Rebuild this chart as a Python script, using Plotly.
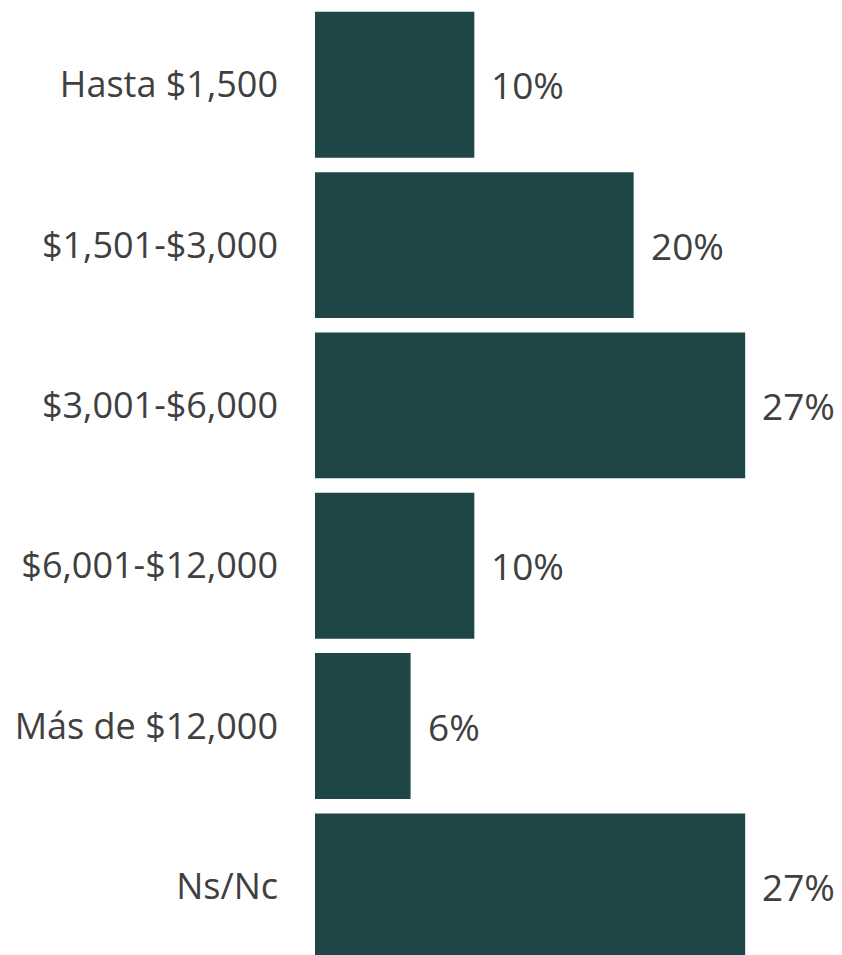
import plotly.graph_objects as go

categories = ["Hasta $1,500", "$1,501-$3,000", "$3,001-$6,000", "$6,001-$12,000", "Más de $12,000", "Ns/Nc"]
values = [10, 20, 27, 10, 6, 27]
value_labels = ["10%", "20%", "27%", "10%", "6%", "27%"]

BAR_COLOR = "#1f4647"
TEXT_COLOR = "#404040"
FONT = "Open Sans, Noto Sans, DejaVu Sans, sans-serif"

fig = go.Figure(
    go.Bar(
        x=values,
        y=categories,
        orientation="h",
        marker=dict(color=BAR_COLOR, line=dict(width=0)),
        hoverinfo="skip",
    )
)

for cat, val, lab in zip(categories, values, value_labels):
    fig.add_annotation(
        x=val, y=cat, text=lab, showarrow=False,
        xanchor="left", yanchor="middle", xshift=15,
        font=dict(family=FONT, size=37, color=TEXT_COLOR),
    )

fig.update_layout(
    width=842, height=955,
    margin=dict(l=307, r=0, t=0, b=0, autoexpand=False),
    paper_bgcolor="white", plot_bgcolor="white",
    bargap=0.09,
    showlegend=False,
    font=dict(family=FONT, size=36, color=TEXT_COLOR),
)
fig.update_xaxes(range=[0, 33.58], visible=False, fixedrange=True)
fig.update_yaxes(
    range=[5.478, -0.479], showgrid=False, zeroline=False, showline=False,
    ticks="", ticklabelstandoff=36, automargin=False,
    tickfont=dict(family=FONT, size=36, color=TEXT_COLOR),
)

fig.write_html("out.html", config=dict(displayModeBar=False))
